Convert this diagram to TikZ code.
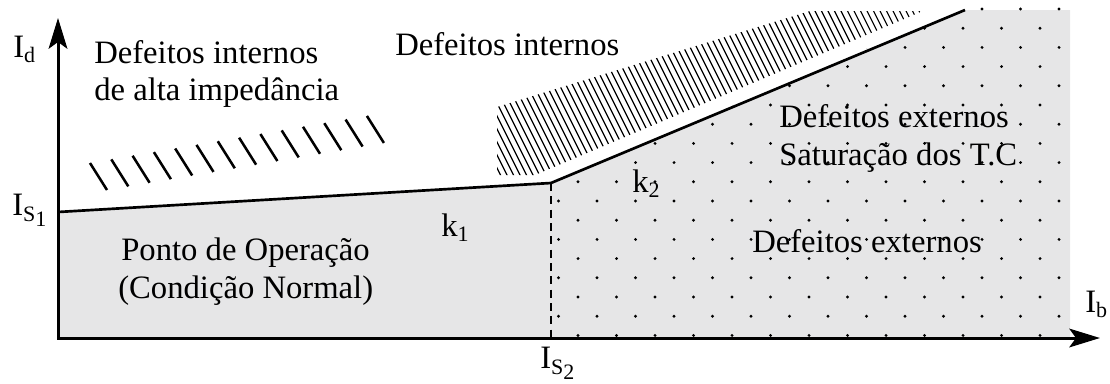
\documentclass[tikz,border=0pt]{standalone}
\usepackage{fontspec}
\setmainfont{Liberation Serif}
\usetikzlibrary{arrows.meta}
\definecolor{regiongray}{RGB}{230,230,231}
\newcommand{\ssub}[2]{#1\raisebox{-4pt}{\fontsize{16.5}{16.5}\selectfont #2}}
\newcommand{\ssubb}[2]{I\raisebox{-5pt}{\fontsize{16.5}{16.5}\selectfont #1\raisebox{-3.5pt}{#2}}}
\begin{document}
\begin{tikzpicture}[x=0.75pt,y=-0.75pt,
  lbl/.style={inner sep=0pt, anchor=base west, font=\fontsize{24.5}{29}\selectfont},
  axisline/.style={line width=2.25pt, {Stealth[length=23pt,width=14pt,inset=5pt]}-{Stealth[length=23pt,width=14pt,inset=5pt]}},
  bound/.style={line width=2pt, line join=round},
  dashline/.style={line width=1.5pt, dash pattern=on 6pt off 4pt},
  hatchA/.style={line width=1.9pt},
  hatchB/.style={line width=0.85pt},
  dotmark/.style={fill=black}]
\useasboundingbox (0,0) rectangle (1110,383);
\coordinate (O) at (58,338);
\coordinate (A) at (58,212);
\coordinate (B) at (551,183);
\coordinate (C) at (965,10);
\coordinate (D) at (1070,10);
\coordinate (E) at (1070,338);
\coordinate (F) at (551,338);
\coordinate (Ytip) at (58,18);
\coordinate (Xtip) at (1100,338);
% gray region
\fill[regiongray] (O) -- (A) -- (B) -- (C) -- (D) -- (E) -- cycle;
% texts
\node[lbl] (id) at (13,57) {\ssub{I}{d}};
\node[lbl] (is1) at (12,215) {\ssubb{S}{1}};
\node[lbl] (is2) at (540,368) {\ssubb{S}{2}};
\node[lbl] (ib) at (1085,312) {\ssub{I}{b}};
\node[lbl] (dih) at (94,63) {Defeitos internos};
\node[lbl] (dih2) at (94,100) {de alta impedância};
\node[lbl] (di) at (395,55) {Defeitos internos};
\node[lbl] (de1) at (779,127) {Defeitos externos};
\node[lbl] (sat) at (779,165) {Saturação dos T.C};
\node[lbl] (de2) at (752,252) {Defeitos externos};
\node[lbl] (po) at (121,260) {Ponto de Operação};
\node[lbl] (cn) at (118,298) {(Condição Normal)};
\node[lbl] (k1) at (441,236) {\ssub{k}{1}};
\node[lbl] (k2) at (632,192) {\ssub{k}{2}};
% dots
\begin{scope}
\clip (B) -- (965,7) -- (1070,7) -- (E) -- (F) -- cycle;
\foreach \n in {0,...,17}{
  \pgfmathsetmacro{\xo}{mod(\n,2)==0 ? 558.5 : 539.5}
  \foreach \k in {0,...,14}{
    \fill[dotmark] (\xo+38.5*\k, 9+19.2*\n) circle[radius=1.2pt];
  }
}
\end{scope}
% dense hatch
\begin{scope}
\clip (497,107) -- (810,11) -- (923,11) -- (535,175) -- (497,175) -- cycle;
\foreach \x in {400,406.5,...,934} \draw[hatchB] (\x,0) -- (\x+100,200);
\end{scope}
% sparse hatch
\foreach \i in {0,...,13}{
  \pgfmathsetmacro{\hx}{90+21.3*\i}
  \pgfmathsetmacro{\hy}{163-0.17*21.3*\i}
  \draw[hatchA] (\hx,\hy) -- ++(17,27);
}
% boundaries
\draw[bound] (A) -- (B) -- (C);
\draw[dashline] (B) -- (F);
\draw[axisline] (Ytip) -- (O) -- (Xtip);
\end{tikzpicture}
\end{document}
